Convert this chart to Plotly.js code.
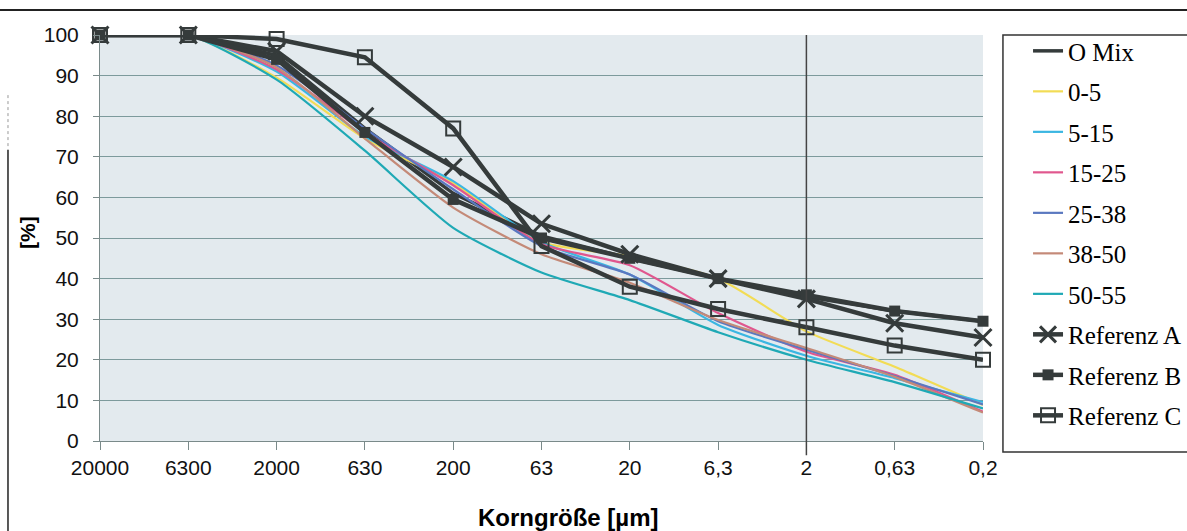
<!DOCTYPE html>
<html>
<head>
<meta charset="utf-8">
<script src="https://cdn.plot.ly/plotly-3.0.1.min.js"></script>
<style>
html,body{margin:0;padding:0;background:#fff;}
#chart{width:1187px;height:531px;}
</style>
</head>
<body>
<div id="chart"></div>
<script>
// Categories (grain size, µm)
const categories = ['20000','6300','2000','630','200','63','20','6,3','2','0,63','0,2'];

// Series values [%]
const oMix     = [100,100,95,77,61,50.5,45,40,35.5,32,29.5];
const s0_5     = [100,100,89.5,74.5,63.5,49,45.5,40,27,18.3,8.9];
const s5_15    = [100,100,91,75,64,49,41,28.6,21,15.5,9.6];
const s15_25   = [100,100,91.5,76,63,48.5,43.3,31.5,22,16.3,7.2];
const s25_38   = [100,100,92.5,77,62,48,41,29.5,22.5,16,9];
const s38_50   = [100,100,92,74.5,57.5,46,39,29.8,22.9,15.8,7];
const s50_55   = [100,100,89,71.5,52.5,41.5,34.7,26.8,20,14.5,8];
const refA     = [100,100,96,80,67.5,53.5,46,40,35,29,25.5];
const refB     = [100,100,94,76,59.5,50,45,40,36,32,29.5];
const refC     = [100,100,99,94.5,77,48,38,32.5,28,23.5,20];

const names = ['O Mix','0-5','5-15','15-25','25-38','38-50','50-55','Referenz A','Referenz B','Referenz C'];
const dark = '#353b3b';

function thin(y, name, color, idx){
  return {x: categories, y: y, name: name, type:'scatter', mode:'lines',
    line:{color: color, width: 2.2, shape:'spline', smoothing:0.6},
    legendgroup:'g'+idx, cliponaxis:false};
}
const traces = [
  {x: categories, y: oMix, name: names[0], type:'scatter', mode:'lines',
   line:{color: dark, width: 3.5}, legendgroup:'g0', cliponaxis:false},
  thin(s0_5, names[1], '#f2dc55', 1),
  thin(s5_15, names[2], '#3bb6e2', 2),
  thin(s15_25, names[3], '#e0578e', 3),
  thin(s25_38, names[4], '#5a78c0', 4),
  thin(s38_50, names[5], '#c48a78', 5),
  thin(s50_55, names[6], '#1fa9b5', 6),
  {x: categories, y: refA, name: names[7], type:'scatter', mode:'lines+markers',
   line:{color: dark, width: 4.5}, marker:{symbol:'x-thin', size:17, line:{color: dark, width:3}},
   legendgroup:'g7', cliponaxis:false},
  {x: categories, y: refB, name: names[8], type:'scatter', mode:'lines+markers',
   line:{color: dark, width: 4.5}, marker:{symbol:'square', size:11, color: dark},
   legendgroup:'g8', cliponaxis:false},
  {x: categories, y: refC, name: names[9], type:'scatter', mode:'lines+markers',
   line:{color: dark, width: 4.5}, marker:{symbol:'square-open', size:14, color: dark, line:{width:2}},
   legendgroup:'g9', cliponaxis:false}
];

const tickFont = {family:'Liberation Sans, Arial, sans-serif', size:21, color:'#111'};
const refLineIndex = categories.indexOf('2');

const layout = {
  width:1187, height:531,
  margin:{l:100, r:204, t:35, b:90, autoexpand:false},
  paper_bgcolor:'#ffffff',
  plot_bgcolor:'#e3eaee',
  showlegend:true,
  legend:{x:1.051, xanchor:'left', y:1.017, yanchor:'top', bgcolor:'rgba(0,0,0,0)',
    font:{family:'Liberation Serif, Times New Roman, serif', size:25, color:'#000'},
    tracegroupgap:5, itemwidth:30, traceorder:'grouped', maxheight:1},
  xaxis:{type:'category', range:[0,10], showgrid:false, zeroline:false, automargin:false,
    showline:true, linecolor:'#7a8a8a', linewidth:1,
    ticks:'outside', ticklen:8, tickcolor:'#7a8a8a', tickfont:tickFont, ticklabelstandoff:0},
  yaxis:{range:[0,100], dtick:10, showgrid:true, gridcolor:'#7d9a9c', gridwidth:1, automargin:false,
    zeroline:false, showline:true, linecolor:'#7a8a8a', linewidth:1,
    ticks:'outside', ticklen:6, tickcolor:'#7a8a8a', tickfont:tickFont, ticklabelstandoff:10},
  annotations:[
    {text:'<b>Korngröße [µm]</b>', xref:'paper', yref:'paper', x:(568-100)/883, y:(441-517)/406,
     xanchor:'center', yanchor:'middle', showarrow:false,
     font:{family:'Liberation Sans, Arial, sans-serif', size:24, color:'#000'}},
    {text:'<b>[%]</b>', xref:'paper', yref:'paper', x:(28-100)/883, y:(441-233)/406,
     xanchor:'center', yanchor:'middle', showarrow:false, textangle:-90,
     font:{family:'Liberation Sans, Arial, sans-serif', size:21, color:'#000'}}
  ],
  shapes:[
    // vertical reference line at category "2"
    {type:'line', xref:'x', yref:'paper', x0:refLineIndex, x1:refLineIndex, y0:-0.035, y1:1, line:{color:'#444', width:1.5}, layer:'above'},
    // top frame line
    {type:'line', xref:'paper', yref:'paper', x0:-0.115, x1:1.235, y0:1.0616, y1:1.0616, line:{color:'#222', width:2}},
    // left frame line
    {type:'line', xref:'paper', yref:'paper', x0:-0.1042, x1:-0.1042, y0:0.7167, y1:-0.23, line:{color:'#222', width:1.5}},
    {type:'line', xref:'paper', yref:'paper', x0:-0.1042, x1:-0.1042, y0:0.852, y1:0.7167, line:{color:'#999', width:1, dash:'dot'}},
    // legend box
    {type:'rect', xref:'paper', yref:'paper', x0:1.0226, x1:1.25, y0:-0.0271, y1:1.0, line:{color:'#333', width:1.5}, fillcolor:'rgba(0,0,0,0)'}
  ]
};

Plotly.newPlot('chart', traces, layout, {displayModeBar:false, staticPlot:true});
</script>
</body>
</html>
